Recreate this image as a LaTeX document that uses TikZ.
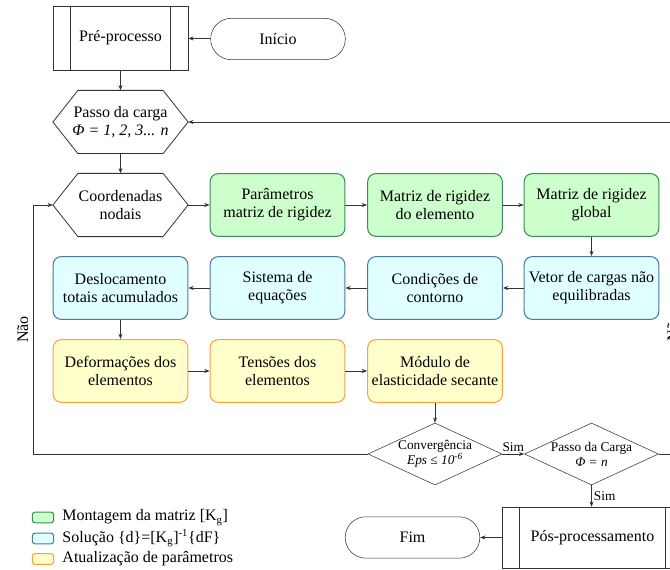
\documentclass[tikz,border=0pt]{standalone}
\usepackage{fontspec}
\setmainfont{Liberation Serif}
\usetikzlibrary{shapes.geometric,arrows.meta}

\definecolor{verdefill}{HTML}{CCFFCC}
\definecolor{verdeline}{HTML}{3C8C5A}
\definecolor{azulfill}{HTML}{E0FFFF}
\definecolor{azulline}{HTML}{4A78A8}
\definecolor{amarfill}{HTML}{FFFFCC}
\definecolor{amarline}{HTML}{FFA040}
\definecolor{linha}{HTML}{333333}

\tikzset{
  bloco/.style={rectangle, rounded corners=6pt, minimum width=101pt, minimum height=47pt,
    align=center, inner sep=1pt, line width=0.8pt},
  montagem/.style={bloco, draw=verdeline, fill=verdefill},
  solucao/.style={bloco, draw=azulline, fill=azulfill},
  atualiza/.style={bloco, draw=amarline, fill=amarfill},
  hexabox/.style={rectangle, minimum width=101pt, minimum height=47pt, align=center, inner sep=0pt},
  decisao/.style={diamond, aspect=2.16, draw=linha, minimum width=100.5pt, minimum height=46.5pt,
    align=center, inner sep=0pt, font=\fontsize{10pt}{11.25pt}\selectfont},
  terminal/.style={rectangle, rounded corners=15.5pt, draw=linha, minimum width=101pt, minimum height=31pt},
  processo/.style={rectangle, draw=linha, minimum height=47pt, align=center},
  legenda/.style={rectangle, rounded corners=2pt, minimum width=16pt, minimum height=8pt, inner sep=0pt, line width=0.8pt},
  seta/.style={-{Stealth[length=4pt,width=3pt]}, draw=linha, line width=0.6pt},
  rotulo/.style={font=\fontsize{10pt}{11pt}\selectfont, inner sep=1.5pt},
}

% hexagono em volta de um no retangular
\newcommand{\hexagono}[1]{%
  \draw[linha, line width=0.6pt] (#1.west) -- ([xshift=18.75pt]#1.north west) -- ([xshift=-18.75pt]#1.north east)
    -- (#1.east) -- ([xshift=-18.75pt]#1.south east) -- ([xshift=18.75pt]#1.south west) -- cycle;}
% barras laterais do processo predefinido
\newcommand{\barras}[1]{%
  \draw[linha, line width=0.6pt] ([xshift=13.5pt]#1.north west) -- ([xshift=13.5pt]#1.south west);
  \draw[linha, line width=0.6pt] ([xshift=-13.5pt]#1.north east) -- ([xshift=-13.5pt]#1.south east);}

\begin{document}
\begin{tikzpicture}[x=0.75pt, y=-0.75pt, font=\fontsize{12pt}{13.5pt}\selectfont]

        \useasboundingbox (0,0) rectangle (670,570);
        \clip (0,0) rectangle (670,570);

        % inicio e pre-processo
        \node[processo, minimum width=101.25pt, minimum height=48pt] (pre) at (120.5,38) {Pré-processo};
        \node[terminal] (inicio) at (278,39) {Início};
        \barras{pre}

        \node[hexabox] (passo) at (120.5,122) {Passo da carga\\\textit{Φ = 1, 2, 3... n}};
        \node[hexabox] (coord) at (120.5,205) {Coordenadas\\nodais};
        \hexagono{passo}
        \hexagono{coord}

        % montagem da matriz
        \node[montagem] (param)   at (277.5,205) {Parâmetros\\matriz de rigidez};
        \node[montagem] (matelem) at (435,205)   {Matriz de rigidez\\do elemento};
        \node[montagem] (matglob) at (591.5,205) {Matriz de rigidez\\global};

        % solucao
        \node[solucao] (desloc)  at (120.5,288) {Deslocamento\\totais acumulados};
        \node[solucao] (sistema) at (277.5,288) {Sistema de\\equações};
        \node[solucao] (condic)  at (435,288)   {Condições de\\contorno};
        \node[solucao] (vetor)   at (591.5,288) {Vetor de cargas não\\equilibradas};

        % atualizacao
        \node[atualiza] (deform)  at (120.5,371) {Deformações dos\\elementos};
        \node[atualiza] (tensoes) at (277.5,371) {Tensões dos\\elementos};
        \node[atualiza] (modulo)  at (435,371)   {Módulo de\\elasticidade secante};

        % decisoes e fim
        \node[decisao] (conv)   at (435,454)   {Convergência\\\textit{Eps ≤ 10\textsuperscript{-6}}};
        \node[decisao] (passoc) at (591.5,454) {Passo da Carga\\\textit{Φ = n}};
        \node[processo, minimum width=135.75pt, minimum height=45.75pt] (pos) at (592.5,537.5) {Pós-processamento};
        \barras{pos}
        \node[terminal] (fim) at (412.5,537.5) {Fim};

        \coordinate (esqA) at (33,454);
        \coordinate (dirA) at (683,454);

        \path (inicio)  edge[seta] (pre);
        \path (pre)     edge[seta] (passo);
        \path (passo)   edge[seta] (coord);
        \path (coord)   edge[seta] (param);
        \path (param)   edge[seta] (matelem);
        \path (matelem) edge[seta] (matglob);
        \path (matglob) edge[seta] (vetor);
        \path (vetor)   edge[seta] (condic);
        \path (condic)  edge[seta] (sistema);
        \path (sistema) edge[seta] (desloc);
        \path (desloc)  edge[seta] (deform);
        \path (deform)  edge[seta] (tensoes);
        \path (tensoes) edge[seta] (modulo);
        \path (modulo)  edge[seta] (conv);
        \path (conv)    edge[seta] node[rotulo, above] {Sim} (passoc);
        \draw[seta] (passoc.south) -- node[rotulo, right] {Sim} (passoc.south |- pos.north);
        \path (pos)     edge[seta] (fim);

        % lacos de retorno
        \draw[seta] (conv.west) -- (esqA) |- node[pos=0.25, rotate=90, above] {Não} (coord.west);
        \draw[seta] (passoc.east) -- (dirA) |- node[pos=0.19, rotate=90, above] {Não} (passo.east);

        % legenda
        \node[legenda, draw=verdeline, fill=verdefill] (legA) at (43,517.5) {};
        \node[legenda, draw=azulline, fill=azulfill]   (legB) at (43,538.5) {};
        \node[legenda, draw=amarline, fill=amarfill]   (legC) at (43,559) {};
        \node[anchor=west, inner sep=0pt] (txtA) at ([xshift=6pt]legA.east) {Montagem da matriz [K\textsubscript{g}]};
        \node[anchor=west, inner sep=0pt] (txtB) at ([xshift=6pt]legB.east) {Solução \{d\}=[K\textsubscript{g}]\textsuperscript{-1}\{dF\}};
        \node[anchor=west, inner sep=0pt] (txtC) at ([xshift=6pt]legC.east) {Atualização de parâmetros};

      \end{tikzpicture}
\end{document}
